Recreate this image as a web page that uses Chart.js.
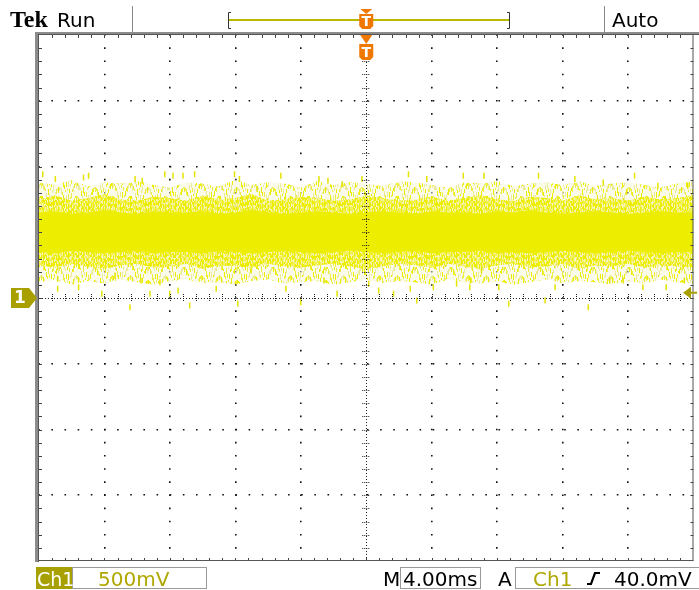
<!DOCTYPE html>
<html lang="en">
<head>
<meta charset="UTF-8">
<title>Tek Run</title>
<script src="https://cdn.jsdelivr.net/npm/chart.js"></script>
<style>
  html, body { margin: 0; padding: 0; background: #fff; }
  #scope { display: block; }
</style>
</head>
<body>
<canvas id="scope" width="699" height="590"></canvas>
<script>
// time axis (ms) and noise envelope of Ch1 (V)
const timeMs = [-20, -19, -18, -17, -16, -15, -14, -13, -12, -11, -10, -9, -8, -7, -6, -5, -4, -3, -2, -1, 0,
                1, 2, 3, 4, 5, 6, 7, 8, 9, 10, 11, 12, 13, 14, 15, 16, 17, 18, 19, 20];
const coreTop    = [0.65,0.66,0.64,0.65,0.67,0.65,0.64,0.66,0.65,0.65,0.66,0.64,0.65,0.67,0.65,0.64,0.65,0.66,0.65,0.64,0.65,0.66,0.65,0.64,0.66,0.65,0.65,0.64,0.66,0.65,0.67,0.65,0.64,0.65,0.66,0.65,0.64,0.65,0.66,0.65,0.65];
const coreBottom = [0.35,0.34,0.36,0.35,0.34,0.35,0.36,0.34,0.35,0.35,0.34,0.36,0.35,0.34,0.35,0.36,0.35,0.34,0.35,0.36,0.35,0.34,0.35,0.36,0.34,0.35,0.35,0.36,0.34,0.35,0.34,0.35,0.36,0.35,0.34,0.35,0.36,0.35,0.34,0.35,0.35];
const midTop     = [0.75,0.78,0.74,0.76,0.79,0.75,0.74,0.77,0.76,0.74,0.78,0.75,0.76,0.79,0.74,0.75,0.77,0.76,0.74,0.75,0.78,0.76,0.74,0.75,0.77,0.74,0.76,0.78,0.75,0.74,0.77,0.76,0.74,0.78,0.75,0.76,0.74,0.77,0.75,0.76,0.78];
const midBottom  = [0.25,0.23,0.26,0.24,0.22,0.25,0.26,0.23,0.24,0.26,0.22,0.25,0.24,0.23,0.26,0.24,0.23,0.25,0.26,0.24,0.22,0.24,0.26,0.25,0.23,0.26,0.24,0.22,0.25,0.26,0.23,0.24,0.26,0.22,0.25,0.24,0.26,0.23,0.25,0.24,0.23];
const outerTop   = [0.88,0.86,0.90,0.85,0.88,0.87,0.89,0.86,0.84,0.88,0.87,0.85,0.90,0.86,0.88,0.87,0.84,0.89,0.86,0.88,0.87,0.85,0.89,0.88,0.86,0.84,0.88,0.87,0.89,0.85,0.87,0.88,0.86,0.89,0.85,0.87,0.88,0.86,0.84,0.87,0.89];
const outerBottom= [0.12,0.14,0.10,0.13,0.11,0.14,0.12,0.10,0.13,0.14,0.11,0.12,0.10,0.13,0.14,0.11,0.12,0.13,0.10,0.12,0.14,0.11,0.13,0.12,0.10,0.14,0.12,0.11,0.13,0.10,0.12,0.14,0.11,0.13,0.12,0.10,0.13,0.11,0.14,0.12,0.11];

// isolated spikes outside the band
const spikeMs = [-19.77,-19.0,-17.28,-16.97,-14.13,-13.69,-12.31,-11.81,-11.2,-10.49,-8.05,-7.75,-6.67,-5.22,-2.89,-2.34,-1.47,-0.26,2.58,3.7,5.93,7.19,10.53,12.75,14.48,16.4,17.82,19.65,
                 -18.86,-18.86,-17.58,-16.16,-15.35,-14.44,-13.77,-13.22,-12.61,-12.01,-11.5,-10.79,-9.17,-7.85,-7.04,-4.91,-4.0,-2.58,-1.78,0.15,0.76,1.67,2.69,3.09,4.1,5.52,6.33,7.04,6.37,8.1,8.71,10.93,11.54,13.57,14.88,15.7,16.91,18.33,19.44];
const spikeV  = [0.942,0.904,0.917,0.93,0.904,0.892,0.942,0.93,0.93,0.942,0.942,0.904,0.829,0.93,0.904,0.892,0.867,0.904,0.942,0.904,0.93,0.93,0.93,0.904,0.879,0.93,0.854,0.854,
                 0.146,0.07,0.082,0.032,0.171,-0.07,0.133,0.032,0.12,0.032,0.057,-0.057,0.07,-0.044,0.209,0.07,-0.032,0.133,0.032,0.108,0.057,0.032,0.07,-0.019,0.082,0.108,0.082,0.209,0.133,0.082,-0.044,-0.019,0.082,-0.07,0.133,0.133,0.082,0.082,0.133];

const groundV = 0;       // Ch1 ground marker
const trigLevelV = 0.04; // 40.0mV
const trigTimeMs = 0;

const YEL = '#eded00';
const OLIVE = '#a8a000';
const ORANGE = '#f07800';

function pts(arr) {
  return arr.map((v, i) => ({ x: timeMs[i], y: v }));
}

// speckle texture for the band fills (fixed, hash based)
function speckle(w, h, base, perCol, colors) {
  const c = document.createElement('canvas');
  c.width = w; c.height = h;
  const g = c.getContext('2d');
  if (base) { g.fillStyle = base; g.fillRect(0, 0, w, h); }
  for (let x = 0; x < w; x++) {
    for (let k = 0; k < perCol; k++) {
      const y = (x * 29 + k * Math.floor(h / perCol) + (x * x * 7) % h) % h;
      const len = 2 + (x * 13 + k * 5) % 5;
      g.fillStyle = colors[(x + k) % colors.length];
      g.fillRect(x, y, 1, len);
      if (y + len > h) g.fillRect(x, y - h, 1, len);
    }
  }
  return g.createPattern(c, 'repeat');
}

const midFill = speckle(97, 61, 'rgba(242,242,160,0.7)', 10, [YEL, YEL, '#f0f050']);
const outerFill = speckle(89, 53, 'rgba(246,246,215,0.5)', 4, [YEL, 'rgba(232,232,140,0.85)', '#eeee40']);

const bandLine = { borderWidth: 0, pointRadius: 0, tension: 0 };

const graticule = {
  id: 'graticule',
  beforeDraw(chart) {
    const ctx = chart.ctx;
    ctx.save();
    ctx.fillStyle = '#fff';
    ctx.fillRect(0, 0, chart.width, chart.height);
    ctx.restore();
  },
  afterDraw(chart) {
    const ctx = chart.ctx;
    const a = chart.chartArea;
    const xs = chart.scales.x, ys = chart.scales.y;
    const cx = xs.getPixelForValue(trigTimeMs);
    const cy = ys.getPixelForValue(groundV);
    const mx = (a.right - a.left) / 50, my = (a.bottom - a.top) / 40;
    ctx.save();

    // center cross
    ctx.strokeStyle = '#222';
    ctx.lineWidth = 1;
    ctx.setLineDash([1, 2]);
    ctx.beginPath();
    ctx.moveTo(Math.round(cx) + 0.5, a.top); ctx.lineTo(Math.round(cx) + 0.5, a.bottom);
    ctx.moveTo(a.left, Math.round(cy) + 0.5); ctx.lineTo(a.right, Math.round(cy) + 0.5);
    ctx.stroke();
    ctx.setLineDash([1, 1]);
    ctx.beginPath();
    for (let i = 1; i < 40; i++) {
      const y = Math.round(a.top + i * my) + 0.5;
      ctx.moveTo(cx - 4, y); ctx.lineTo(cx + 4, y);
    }
    for (let i = 1; i < 50; i++) {
      const x = Math.round(a.left + i * mx) + 0.5;
      ctx.moveTo(x, cy - 4); ctx.lineTo(x, cy + 4);
    }
    ctx.stroke();

    // border ticks
    ctx.setLineDash([]);
    ctx.strokeStyle = '#444';
    ctx.beginPath();
    for (let i = 1; i < 50; i++) {
      const x = Math.round(a.left + i * mx) + 0.5;
      ctx.moveTo(x, a.top); ctx.lineTo(x, a.top + 3);
      ctx.moveTo(x, a.bottom - 3); ctx.lineTo(x, a.bottom);
    }
    for (let i = 1; i < 40; i++) {
      const y = Math.round(a.top + i * my) + 0.5;
      ctx.moveTo(a.left, y); ctx.lineTo(a.left + 3, y);
      ctx.moveTo(a.right - 3, y); ctx.lineTo(a.right, y);
    }
    ctx.stroke();

    // frame
    ctx.fillStyle = '#8c8c8c';
    ctx.fillRect(a.left - 4, a.top - 3, chart.width - a.left + 4, 3);
    ctx.fillRect(a.left - 4, a.top - 3, 4, a.bottom - a.top + 4);
    ctx.fillStyle = '#555';
    ctx.fillRect(a.left - 1, a.top - 1, chart.width - a.left + 1, 1);
    ctx.fillRect(a.left - 1, a.top - 1, 1, a.bottom - a.top + 2);
    ctx.fillRect(a.right - 1, a.top, 1, a.bottom - a.top);
    ctx.fillRect(a.left, a.bottom - 1, a.right - a.left, 1);

    // ground marker "1"
    ctx.fillStyle = OLIVE;
    ctx.beginPath();
    ctx.moveTo(11, cy - 10); ctx.lineTo(29, cy - 10); ctx.lineTo(37, cy);
    ctx.lineTo(29, cy + 10); ctx.lineTo(11, cy + 10); ctx.closePath();
    ctx.fill();
    ctx.fillStyle = '#fff';
    ctx.font = 'bold 17px "DejaVu Sans"';
    ctx.textAlign = 'center';
    ctx.textBaseline = 'middle';
    ctx.fillText('1', 20, cy + 1);

    // trigger level arrow
    const ty = ys.getPixelForValue(trigLevelV);
    ctx.fillStyle = OLIVE;
    ctx.beginPath();
    ctx.moveTo(683, ty); ctx.lineTo(691, ty - 6); ctx.lineTo(691, ty + 6); ctx.closePath();
    ctx.fill();
    ctx.fillRect(690, ty - 1, 7, 2);

    // trigger position markers
    function tMark(x, yTri, yBox, h) {
      ctx.fillStyle = ORANGE;
      ctx.beginPath();
      ctx.moveTo(x - 6, yTri); ctx.lineTo(x + 6, yTri); ctx.lineTo(x, yBox); ctx.closePath();
      ctx.fill();
      ctx.beginPath();
      ctx.moveTo(x - 7, yBox); ctx.lineTo(x + 7, yBox); ctx.lineTo(x + 7, yBox + h - 3);
      ctx.lineTo(x + 4, yBox + h); ctx.lineTo(x - 4, yBox + h); ctx.lineTo(x - 7, yBox + h - 3);
      ctx.closePath(); ctx.fill();
      ctx.fillStyle = '#fff';
      ctx.font = 'bold 14px "DejaVu Sans"';
      ctx.textAlign = 'center';
      ctx.textBaseline = 'middle';
      ctx.fillText('T', x, yBox + h / 2 + 1);
    }

    // header
    ctx.fillStyle = '#888';
    ctx.fillRect(132, 6, 1, 26);
    ctx.fillRect(604, 6, 1, 26);
    ctx.strokeStyle = '#b8b800';
    ctx.lineWidth = 2;
    ctx.beginPath(); ctx.moveTo(229, 20); ctx.lineTo(509, 20); ctx.stroke();
    ctx.strokeStyle = '#333';
    ctx.lineWidth = 1;
    ctx.beginPath();
    ctx.moveTo(231, 12.5); ctx.lineTo(228.5, 12.5); ctx.lineTo(228.5, 28.5); ctx.lineTo(231, 28.5);
    ctx.moveTo(507, 12.5); ctx.lineTo(509.5, 12.5); ctx.lineTo(509.5, 28.5); ctx.lineTo(507, 28.5);
    ctx.stroke();
    tMark(cx, 9, 14, 15);
    tMark(cx, a.top, a.top + 9, 16);

    ctx.textAlign = 'left';
    ctx.textBaseline = 'alphabetic';
    ctx.fillStyle = '#000';
    ctx.font = 'bold 24px "Liberation Serif"';
    ctx.fillText('Tek', 10, 27);
    ctx.font = '20px "DejaVu Sans"';
    ctx.fillText('Run', 57, 27);
    ctx.fillText('Auto', 612, 27);

    // footer
    const fy = 586;
    ctx.strokeStyle = '#999';
    ctx.lineWidth = 1;
    ctx.strokeRect(72.5, 567.5, 134, 21);
    ctx.strokeRect(400.5, 567.5, 80, 21);
    ctx.strokeRect(515.5, 567.5, 190, 21);
    ctx.fillStyle = OLIVE;
    ctx.fillRect(36, 567, 36, 22);
    ctx.fillStyle = '#fff';
    ctx.font = '19px "DejaVu Sans"';
    ctx.fillText('Ch1', 37, fy);
    ctx.fillStyle = '#b0a800';
    ctx.font = '20px "DejaVu Sans"';
    ctx.fillText('500mV', 98, fy);
    ctx.fillText('Ch1', 533, fy);
    ctx.fillStyle = '#000';
    ctx.fillText('M', 383, fy);
    ctx.fillText('4.00ms', 403, fy);
    ctx.fillText('A', 498, fy);
    ctx.fillText('40.0mV', 614, fy);
    ctx.strokeStyle = '#000';
    ctx.lineWidth = 2.2;
    ctx.beginPath();
    ctx.moveTo(587, 584); ctx.lineTo(591, 584); ctx.lineTo(595, 573); ctx.lineTo(600, 573);
    ctx.stroke();

    ctx.restore();
  }
};

new Chart(document.getElementById('scope').getContext('2d'), {
  type: 'line',
  data: {
    datasets: [
      { ...bandLine, label: 'core', data: pts(coreTop), fill: '+1', backgroundColor: YEL, order: 1 },
      { ...bandLine, label: 'core low', data: pts(coreBottom), fill: false, order: 1 },
      { ...bandLine, label: 'mid', data: pts(midTop), fill: '+1', backgroundColor: midFill, order: 2 },
      { ...bandLine, label: 'mid low', data: pts(midBottom), fill: false, order: 2 },
      { ...bandLine, label: 'outer', data: pts(outerTop), fill: '+1', backgroundColor: outerFill, order: 3 },
      { ...bandLine, label: 'outer low', data: pts(outerBottom), fill: false, order: 3 },
      {
        label: 'spikes',
        data: spikeMs.map((t, i) => ({ x: t, y: spikeV[i] })),
        showLine: false,
        pointStyle: 'line',
        rotation: 90,
        pointRadius: 3,
        borderColor: '#e4e400',
        borderWidth: 1.5,
        order: 0
      }
    ]
  },
  options: {
    responsive: false,
    animation: false,
    devicePixelRatio: 1,
    layout: { padding: { left: 39, top: 35, right: 2, bottom: 29 } },
    plugins: { legend: { display: false }, tooltip: { enabled: false } },
    scales: {
      x: {
        type: 'linear', min: -20, max: 20, z: 1,
        ticks: { display: false, stepSize: 4 },
        grid: {
          drawTicks: false, lineWidth: 1.6,
          color: c => (c.tick && (c.tick.value === 0 || Math.abs(c.tick.value) === 20)) ? 'rgba(0,0,0,0)' : '#111'
        },
        border: { display: false, dash: [1.6, 11.55], dashOffset: 0.8 }
      },
      y: {
        type: 'linear', min: -2, max: 2, z: 1,
        ticks: { display: false, stepSize: 0.5 },
        grid: {
          drawTicks: false, lineWidth: 1.6,
          color: c => (c.tick && (c.tick.value === 0 || Math.abs(c.tick.value) === 2)) ? 'rgba(0,0,0,0)' : '#111'
        },
        border: { display: false, dash: [1.6, 11.55], dashOffset: 0.8 }
      }
    }
  },
  plugins: [graticule]
});
</script>
</body>
</html>
